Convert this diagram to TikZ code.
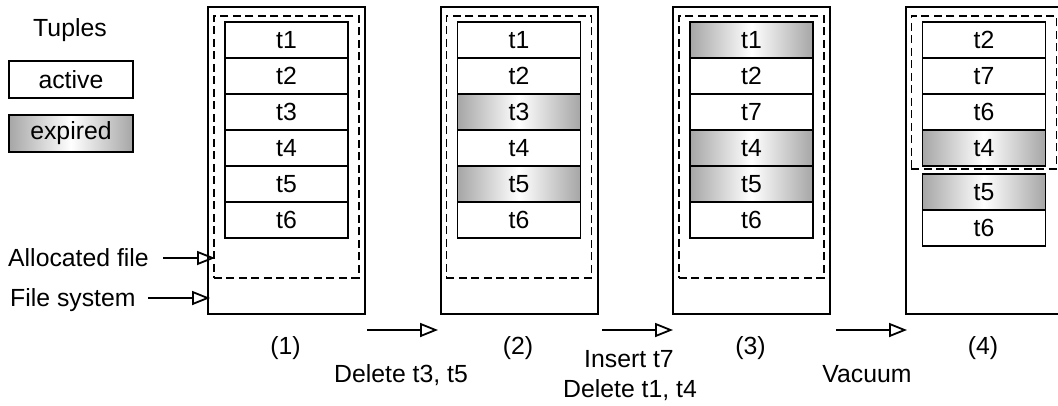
\documentclass[tikz,border=0pt]{standalone}
\usepackage{fontspec}
\setmainfont{Liberation Sans}
\usetikzlibrary{arrows.meta}
\begin{document}
\begin{tikzpicture}[x=1pt,y=-1pt,
  every node/.style={font=\fontsize{24.8}{29}\selectfont},
  tuplebox/.style={draw, line width=1.9pt, minimum width=123pt, minimum height=36pt, inner sep=0pt, anchor=north west},
  expiredbox/.style={tuplebox, left color=black!35, right color=black!35, middle color=white},
  outerbox/.style={draw, line width=2.2pt, inner sep=0pt, anchor=north west, minimum width=157pt, minimum height=307pt},
  allocbox/.style={draw, dash pattern=on 8pt off 4.5pt, line width=1.8pt, inner sep=0pt, anchor=north west, minimum width=145pt},
  arr/.style={line width=1.8pt, -{Triangle[open, length=18pt, width=14pt, line width=1.8pt]}},
  lbl/.style={inner sep=0pt, anchor=base}
]
\useasboundingbox (0,0) rectangle (1058,405);
\clip (0,0) rectangle (1058,405);

% legend
\node[lbl] (tuples) at (70,36) {Tuples};
\node[tuplebox, minimum width=124pt, minimum height=37pt] (active) at (8,60) {active};
\node[expiredbox, minimum width=124pt, minimum height=37pt] (expired) at (8,114) {expired};

% outer boxes (file system)
\node[outerbox] (p1) at (207,6) {};
\node[outerbox] (p2) at (439.5,6) {};
\node[outerbox] (p3) at (672,6) {};
\node[outerbox] (p4) at (904.5,6) {};

% allocated files
\node[allocbox, minimum height=262pt] (a1) at (213,15) {};
\node[allocbox, minimum height=262pt] (a2) at (445.5,15) {};
\node[allocbox, minimum height=262pt] (a3) at (678,15) {};
\node[allocbox, minimum height=153pt] (a4) at (910.5,15) {};

% panel 1
\node[tuplebox] (p1t1) at (224,21)  {t1};
\node[tuplebox] (p1t2) at (224,57)  {t2};
\node[tuplebox] (p1t3) at (224,93)  {t3};
\node[tuplebox] (p1t4) at (224,129) {t4};
\node[tuplebox] (p1t5) at (224,165) {t5};
\node[tuplebox] (p1t6) at (224,201) {t6};

% panel 2
\node[tuplebox]   (p2t1) at (456.5,21)  {t1};
\node[tuplebox]   (p2t2) at (456.5,57)  {t2};
\node[expiredbox] (p2t3) at (456.5,93)  {t3};
\node[tuplebox]   (p2t4) at (456.5,129) {t4};
\node[expiredbox] (p2t5) at (456.5,165) {t5};
\node[tuplebox]   (p2t6) at (456.5,201) {t6};

% panel 3
\node[expiredbox] (p3t1) at (689,21)  {t1};
\node[tuplebox]   (p3t2) at (689,57)  {t2};
\node[tuplebox]   (p3t7) at (689,93)  {t7};
\node[expiredbox] (p3t4) at (689,129) {t4};
\node[expiredbox] (p3t5) at (689,165) {t5};
\node[tuplebox]   (p3t6) at (689,201) {t6};

% panel 4
\node[tuplebox]   (p4t2) at (921.5,21)  {t2};
\node[tuplebox]   (p4t7) at (921.5,57)  {t7};
\node[tuplebox]   (p4t6) at (921.5,93)  {t6};
\node[expiredbox] (p4t4) at (921.5,129) {t4};
\node[expiredbox] (p4t5) at (921.5,173) {t5};
\node[tuplebox]   (p4t6b) at (921.5,209) {t6};

% left labels and arrows
\node[inner sep=0pt, anchor=base west] (alloclbl) at (8,266.8) {Allocated file};
\node[inner sep=0pt, anchor=base west] (fslbl) at (10,306.8) {File system};
\coordinate (allocstart) at (163,258);
\coordinate (allocend) at (215,258);
\coordinate (fsstart) at (148,298);
\coordinate (fsend) at (210,298);
\draw[arr] (allocstart) -- (allocend);
\draw[arr] (fsstart) -- (fsend);

% panel numbers
\node[lbl] (n1) at (285.5,354) {(1)};
\node[lbl] (n2) at (518,354) {(2)};
\node[lbl] (n3) at (750.5,354) {(3)};
\node[lbl] (n4) at (983,354) {(4)};

% operations
\coordinate (s1) at (367,330);
\coordinate (e1) at (438,330);
\coordinate (s2) at (602,330);
\coordinate (e2) at (673,330);
\coordinate (s3) at (836,330);
\coordinate (e3) at (907,330);
\draw[arr] (s1) -- (e1);
\draw[arr] (s2) -- (e2);
\draw[arr] (s3) -- (e3);
\node[lbl] (op1) at (401,382) {Delete t3, t5};
\node[lbl] (op2a) at (629,367) {Insert t7};
\node[lbl] (op2b) at (630,397) {Delete t1, t4};
\node[lbl] (op3) at (867,382) {Vacuum};
\end{tikzpicture}
\end{document}
